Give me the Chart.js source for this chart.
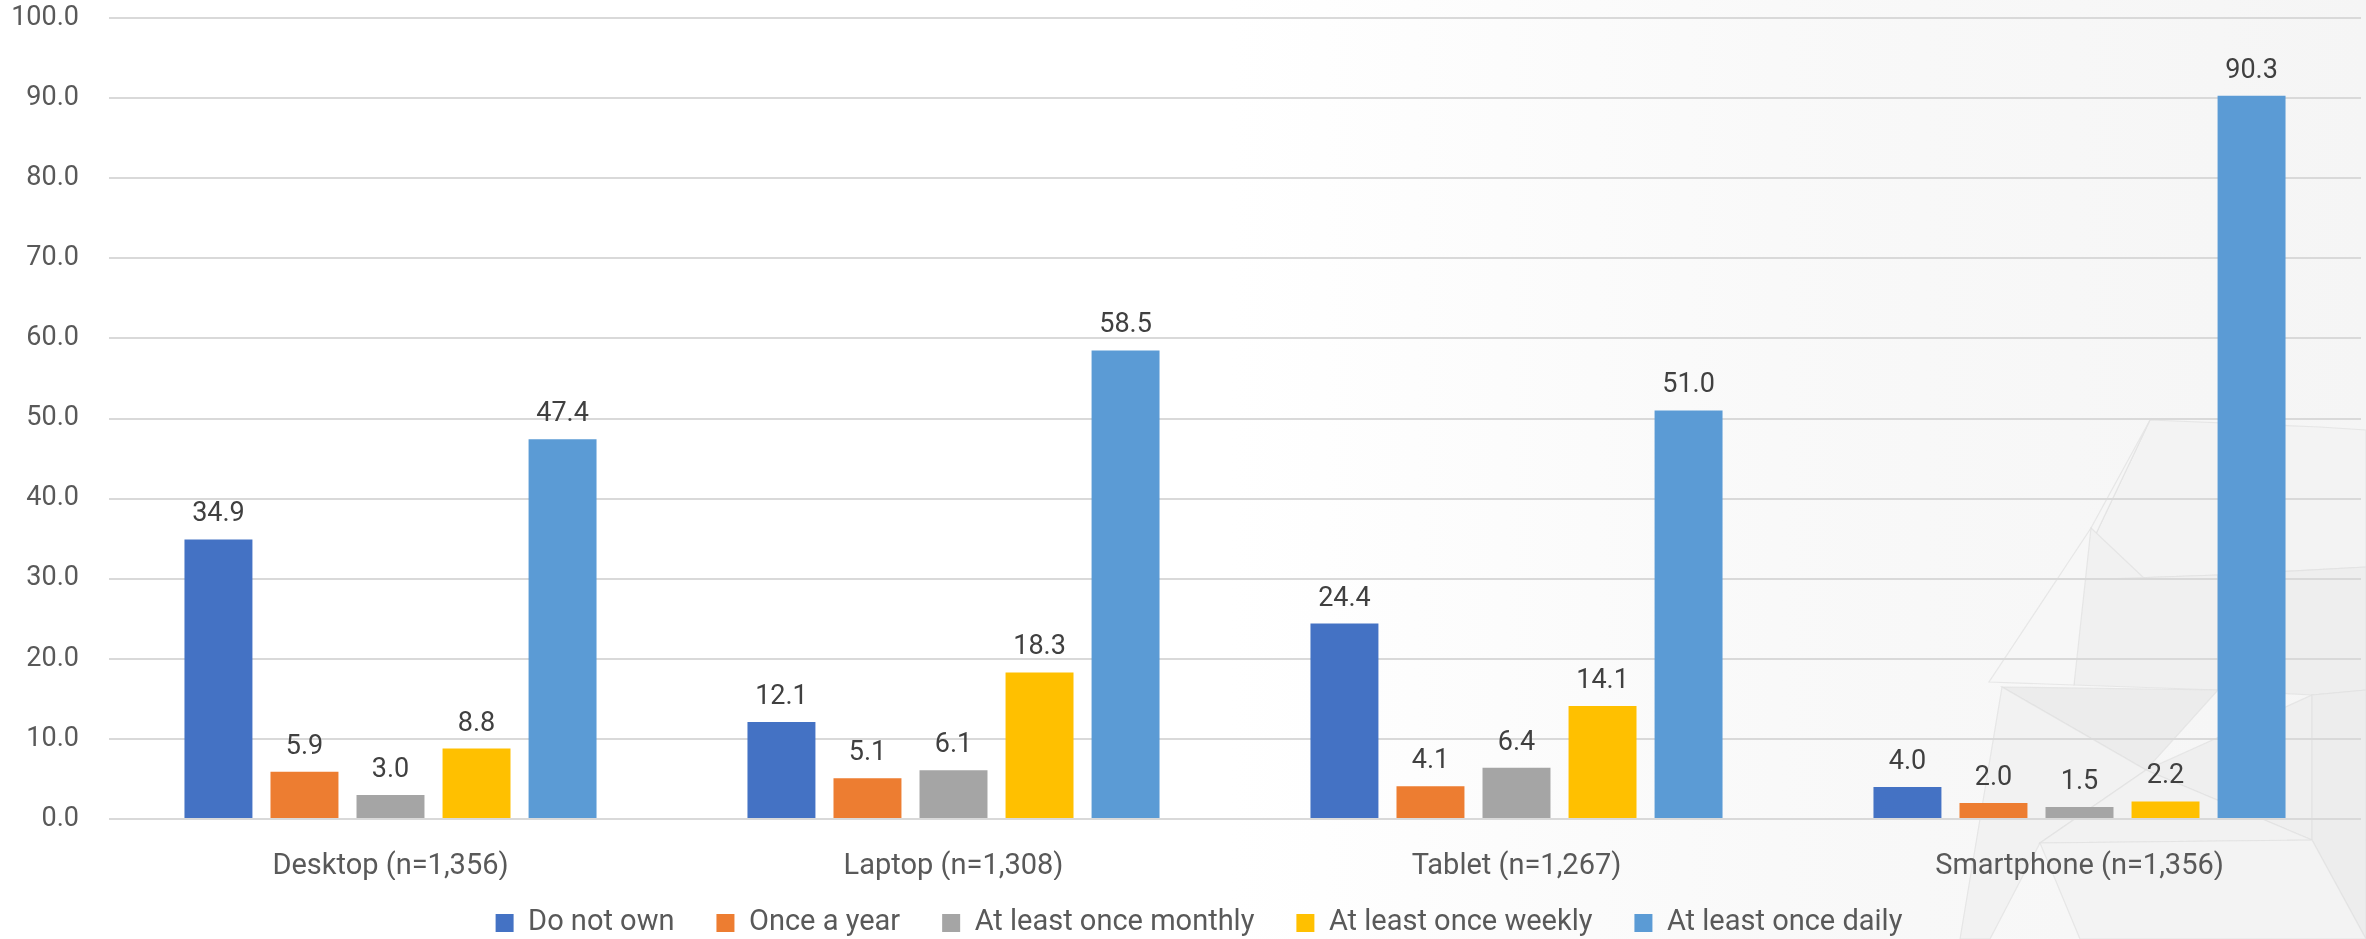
<!DOCTYPE html>
<html>
<head>
<meta charset="utf-8">
<script src="https://cdn.jsdelivr.net/npm/chart.js@4/dist/chart.umd.min.js"></script>
<style>
  html, body { margin: 0; padding: 0; }
  body { width: 2366px; height: 939px; overflow: hidden; background: #fff; }
  #wrap { position: relative; width: 2366px; height: 939px;
    background: linear-gradient(90deg, #ffffff 0%, #ffffff 52%, #f9f9f9 75%, #f5f5f5 100%); }
  #bg { position: absolute; left: 0; top: 0; }
  #chart { position: absolute; left: 0; top: 0; }
</style>
</head>
<body>
<div id="wrap">
  <!-- faint polygon decoration behind the chart, bottom right -->
  <svg id="bg" width="2366" height="939">
    <g stroke="#e0e0e0" stroke-width="1.2" stroke-opacity="0.7">
      <polygon points="2150,420 2320,427 2366,430 2366,567 2218,575 2074,580" fill="#f3f3f3"/>
      <polygon points="2150,420 2091,528 2074,580" fill="#f6f6f6"/>
      <polygon points="2091,528 2146,580 2074,580" fill="#f1f1f1"/>
      <polygon points="2074,580 2218,575 2218,690 2074,685" fill="#f0f0f0"/>
      <polygon points="2218,575 2366,567 2366,690 2312,695 2218,690" fill="#eeeeee"/>
      <polygon points="2091,528 1989,682 2074,685" fill="#f7f7f7"/>
      <polygon points="2002,687 2218,690 2146,770" fill="#ececec"/>
      <polygon points="2002,687 2146,770 2040,843 1990,939 1960,939" fill="#f2f2f2"/>
      <polygon points="2146,770 2312,695 2312,840" fill="#efefef"/>
      <polygon points="2146,770 2312,840 2040,843" fill="#f2f2f2"/>
      <polygon points="2312,695 2366,690 2366,939 2312,840" fill="#ededed"/>
      <polygon points="2040,843 2312,840 2366,939 2080,939" fill="#f3f3f3"/>
    </g>
  </svg>
  <canvas id="chart" width="2366" height="939"></canvas>
</div>
<script>
const categories = ['Desktop (n=1,356)', 'Laptop (n=1,308)', 'Tablet (n=1,267)', 'Smartphone (n=1,356)'];
const seriesNames = ['Do not own', 'Once a year', 'At least once monthly', 'At least once weekly', 'At least once daily'];
const doNotOwn = [34.9, 12.1, 24.4, 4.0];
const onceAYear = [5.9, 5.1, 4.1, 2.0];
const onceMonthly = [3.0, 6.1, 6.4, 1.5];
const onceWeekly = [8.8, 18.3, 14.1, 2.2];
const onceDaily = [47.4, 58.5, 51.0, 90.3];
const yTicks = [0, 10, 20, 30, 40, 50, 60, 70, 80, 90, 100];

const colors = ['#4472C4', '#ED7D31', '#A5A5A5', '#FFC000', '#5B9BD5'];
const seriesValues = [doNotOwn, onceAYear, onceMonthly, onceWeekly, onceDaily];

const FONT = 'Roboto, "Liberation Sans", sans-serif';
const LEGEND_SIZE = 29;

// value labels above the bars
const valueLabels = {
    id: 'valueLabels',
    afterDatasetsDraw(chart) {
        const ctx = chart.ctx;
        ctx.save();
        ctx.font = '27px ' + FONT;
        ctx.fillStyle = '#404040';
        ctx.textAlign = 'center';
        ctx.textBaseline = 'alphabetic';
        chart.data.datasets.forEach((ds, i) => {
            chart.getDatasetMeta(i).data.forEach((bar, j) => {
                ctx.fillText(ds.data[j].toFixed(1), bar.x, bar.y - 18);
            });
        });
        ctx.restore();
    }
};

// legend: small box height in the layout, then moved so its row sits near the bottom
const legendPlace = {
    id: 'legendPlace',
    beforeLayout(chart) {
        const legend = chart.legend;
        if (legend && !legend._patched) {
            const fit = legend.fit;
            legend.fit = function () {
                fit.call(this);
                this.height = 59;
            };
            legend._patched = true;
        }
    },
    afterLayout(chart) {
        const legend = chart.legend;
        const pad = legend.options.labels.padding;
        legend.top = 923 - pad - LEGEND_SIZE / 2;
        legend.bottom = chart.height;
        legend.height = legend.bottom - legend.top;
        legend.left = 2 * 1199 - legend.right;
    }
};

const ctx = document.getElementById('chart').getContext('2d');
new Chart(ctx, {
    type: 'bar',
    data: {
        labels: categories,
        datasets: seriesNames.map((name, i) => ({
            label: name,
            data: seriesValues[i],
            backgroundColor: colors[i],
            borderWidth: 0,
            categoryPercentage: 0.764,
            barPercentage: 0.79
        }))
    },
    options: {
        responsive: false,
        animation: false,
        layout: { padding: { top: 18, right: 5, left: 0, bottom: 0 } },
        plugins: {
            legend: {
                position: 'bottom',
                labels: {
                    boxWidth: 18,
                    boxHeight: 18,
                    padding: 42,
                    color: '#595959',
                    font: { family: FONT, size: LEGEND_SIZE }
                }
            },
            tooltip: { enabled: false }
        },
        scales: {
            x: {
                grid: { display: false },
                border: { display: false },
                ticks: {
                    color: '#595959',
                    padding: 22,
                    font: { family: FONT, size: 29 }
                },
                afterFit(scale) {
                    scale.height = 61;
                    scale.paddingLeft = 0;
                    scale.paddingRight = 0;
                }
            },
            y: {
                min: 0,
                max: 100,
                afterBuildTicks(scale) { scale.ticks = yTicks.map(v => ({ value: v })); },
                grid: { color: '#d9d9d9', lineWidth: 2, drawTicks: false },
                border: { display: false },
                ticks: {
                    color: '#595959',
                    padding: 30,
                    font: { family: FONT, size: 27 },
                    callback: v => Number(v).toFixed(1)
                },
                afterFit(scale) {
                    scale.width = 109;
                    scale.paddingTop = 0;
                    scale.paddingBottom = 0;
                }
            }
        }
    },
    plugins: [valueLabels, legendPlace]
});
</script>
</body>
</html>
